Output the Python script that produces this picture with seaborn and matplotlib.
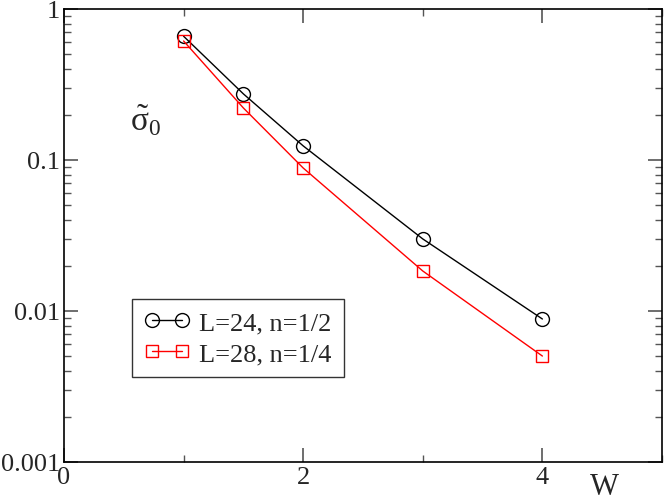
import matplotlib
matplotlib.use("Agg")
import matplotlib.pyplot as plt
import seaborn as sns
import pandas as pd
from matplotlib.ticker import LogLocator, FixedLocator, NullFormatter, FixedFormatter

W = [1.0, 1.5, 2.0, 3.0, 4.0]
sigma_L24 = [0.66, 0.274, 0.124, 0.030, 0.00885]
sigma_L28 = [0.614, 0.221, 0.0885, 0.0184, 0.00503]
labels = ["L=24, n=1/2", "L=28, n=1/4"]

sns.set_style("ticks")
plt.rcParams['font.family'] = ['Liberation Serif', 'DejaVu Serif']
plt.rcParams['mathtext.fontset'] = 'custom'
plt.rcParams['mathtext.rm'] = 'Liberation Serif'
plt.rcParams['mathtext.it'] = 'Liberation Serif:italic'

fig = plt.figure(figsize=(6.64, 5.02), dpi=100)
ax = fig.add_axes([64/664, 1-463/502, 598/664, 453/502])

df1 = pd.DataFrame({"W": W, "s": sigma_L24})
df2 = pd.DataFrame({"W": W, "s": sigma_L28})
sns.lineplot(data=df1, x="W", y="s", ax=ax, color="black", lw=1.0, marker="o",
             markersize=10, mfc="none", mec="black", mew=1.0, label=labels[0])
sns.lineplot(data=df2, x="W", y="s", ax=ax, color="red", lw=1.0, marker="s",
             markersize=9, mfc="none", mec="red", mew=1.0, label=labels[1])

ax.set_yscale("log")
ax.set_xlim(0, 5)
ax.set_ylim(0.001, 1)
ax.xaxis.set_major_locator(FixedLocator([0, 2, 4]))
ax.xaxis.set_minor_locator(FixedLocator([1, 3, 5]))
ax.yaxis.set_major_locator(FixedLocator([0.001, 0.01, 0.1, 1]))
ax.yaxis.set_major_formatter(FixedFormatter(["0.001", "0.01", "0.1", "1"]))
ax.yaxis.set_minor_locator(LogLocator(base=10, subs=range(2, 10)))
ax.yaxis.set_minor_formatter(NullFormatter())
ax.tick_params(which="both", direction="in", top=True, right=True, labelsize=19,
               color="#555555")
ax.tick_params(which="major", length=10, width=1.2, pad=3)
ax.tick_params(which="minor", length=5, width=1.0)
for sp in ax.spines.values():
    sp.set_linewidth(1.2)
    sp.set_color("black")
ax.set_xlabel("")
ax.set_ylabel("")
fig.text(604/664, 1-488/502, "W", fontsize=22, ha="center", va="center")
fig.text(130/664, 1-131/502, r"$\tilde{\mathrm{\sigma}}_{\mathrm{0}}$",
         fontsize=24, ha="left", va="baseline")

leg = ax.legend(loc="lower left", bbox_to_anchor=(0.114, 0.187), fontsize=19,
                numpoints=2, handlelength=1.75, frameon=True, fancybox=False,
                borderpad=0.45, labelspacing=0.3, handletextpad=0.35,
                borderaxespad=0)
leg.get_frame().set_edgecolor("black")
leg.get_frame().set_linewidth(1.0)

fig.savefig("out.png", dpi=100)
